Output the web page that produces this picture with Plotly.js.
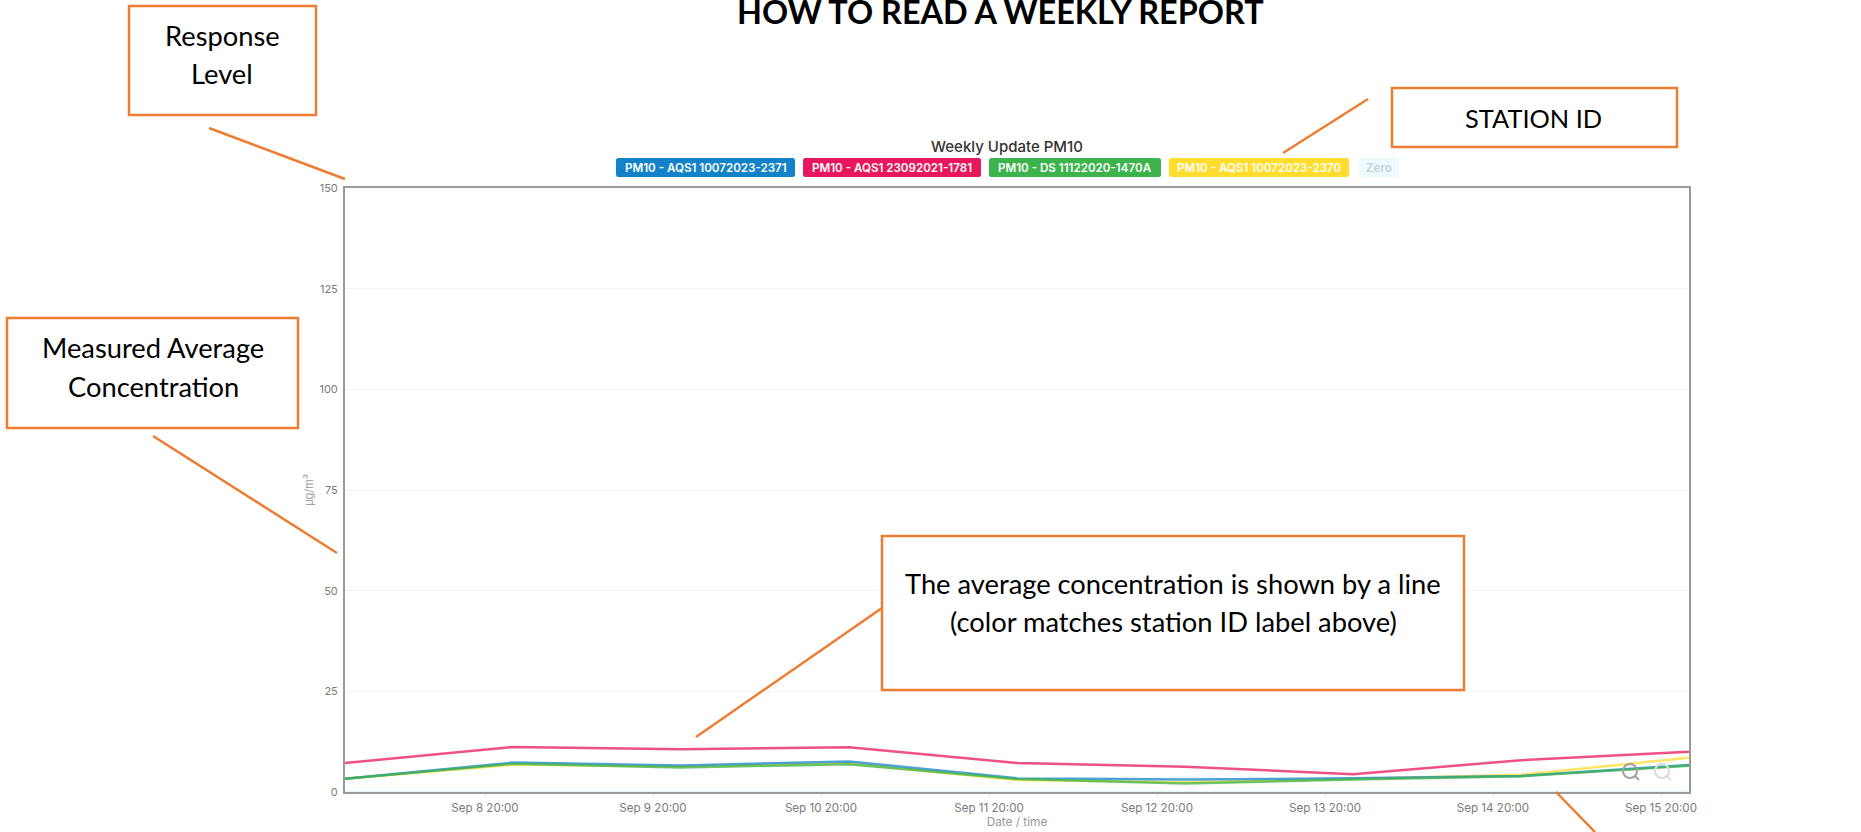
<!DOCTYPE html>
<html>
<head>
<meta charset="utf-8">
<script src="https://cdn.plot.ly/plotly-3.0.1.min.js"></script>
<style>html,body{margin:0;padding:0;background:#fff;overflow:hidden}#c{width:1861px;height:832px}</style>
</head>
<body>
<div id="c"></div>
<script>
const dates = ['2023-09-08 00:00','2023-09-09 00:00','2023-09-10 00:00','2023-09-11 00:00','2023-09-12 00:00','2023-09-13 00:00','2023-09-14 00:00','2023-09-15 00:00','2023-09-16 00:00'];
const zero    = [0,0,0,0,0,0,0,0,0];
const yellow  = [3.3,6.8,6.3,7.1,3.0,2.4,3.2,4.3,8.5];
const red     = [7.2,11.2,10.6,11.1,7.2,6.3,4.4,7.9,10.0];
const blue    = [3.3,7.3,6.6,7.6,3.4,3.1,3.4,4.0,6.7];
const green   = [3.3,7.0,6.1,6.9,3.2,2.1,3.1,3.9,6.5];

const chipNames  = ['PM10 - AQS1 10072023-2371','PM10 - AQS1 23092021-1781','PM10 - DS 11122020-1470A','PM10 - AQS1 10072023-2370','Zero'];
const chipColors = ['#1283c9','#e8175d','#3cb44b','#ffdd2e','#eefbfd'];
const chipText   = ['#ffffff','#ffffff','#ffffff','#ffffff','#c4d2d6'];
const chipLeft   = [616,803,989,1169,1358];
const chipRight  = [795,981,1161,1349,1399];

const W = 1861, H = 832, L = 345, R = 1689, T = 188, B = 792;
const px = x => (x - L) / (R - L);
const py = y => (B - y) / (B - T);
const ORANGE = '#ed7d31';

const boxes = [[129,6,316,115],[7,318,298,428],[1392,88,1677,147],[882,536,1464,690]];
const leaders = [[209,128,345,179],[153,436,337,553],[1368,99,1283,153],[882,608,696,737],[1556,792,1595,832]];
const boxLines = [
  ['Response',222,35,27.3],['Level',222,73,27.3],
  ['Measured Average',153,347,27.3],['Concentration',153,386,27.3],
  ['STATION ID',1533,118,25.4],
  ['The average concentration is shown by a line',1173,583,27.3],['(color matches station ID label above)',1173,621,27.3]
];

function line(name, y, color){
  return {type:'scatter',mode:'lines',name,x:dates,y,line:{color,width:2.5,shape:'linear'},opacity:0.75,hoverinfo:'skip',showlegend:false};
}
const traces = [
  line('Zero',zero,'#d9f3f7'),
  line(chipNames[3],yellow,'#ffdd2e'),
  line(chipNames[1],red,'#e8175d'),
  line(chipNames[0],blue,'#1283c9'),
  line(chipNames[2],green,'#3cb44b')
];

function roundedChip(x0,x1,y0,y1,r){
  const X = v => px(v), Y = v => py(v);
  return `M${X(x0+r)},${Y(y0)} L${X(x1-r)},${Y(y0)} Q${X(x1)},${Y(y0)} ${X(x1)},${Y(y0+r)} L${X(x1)},${Y(y1-r)} Q${X(x1)},${Y(y1)} ${X(x1-r)},${Y(y1)} L${X(x0+r)},${Y(y1)} Q${X(x0)},${Y(y1)} ${X(x0)},${Y(y1-r)} L${X(x0)},${Y(y0+r)} Q${X(x0)},${Y(y0)} ${X(x0+r)},${Y(y0)} Z`;
}
const shapes = [];
chipNames.forEach((n,i)=>shapes.push({type:'path',xref:'paper',yref:'paper',path:roundedChip(chipLeft[i],chipRight[i],158,177,2.5),fillcolor:chipColors[i],line:{width:0},layer:'above'}));
boxes.forEach(b=>shapes.push({type:'rect',xref:'paper',yref:'paper',x0:px(b[0]),x1:px(b[2]),y0:py(b[3]),y1:py(b[1]),fillcolor:'#ffffff',line:{color:ORANGE,width:2.5},layer:'above'}));
leaders.forEach(l=>shapes.push({type:'line',xref:'paper',yref:'paper',x0:px(l[0]),y0:py(l[1]),x1:px(l[2]),y1:py(l[3]),line:{color:ORANGE,width:2.5},layer:'above'}));
// zoom icons of the original chart
[[1630,771,'#a0a0a0'],[1662,771,'#dcdcdc']].forEach(c=>{
  shapes.push({type:'circle',xref:'paper',yref:'paper',x0:px(c[0]-7),x1:px(c[0]+7),y0:py(c[1]+7),y1:py(c[1]-7),line:{color:c[2],width:2},fillcolor:'rgba(0,0,0,0)',layer:'above'});
  shapes.push({type:'line',xref:'paper',yref:'paper',x0:px(c[0]+5),y0:py(c[1]+5),x1:px(c[0]+9),y1:py(c[1]+9),line:{color:c[2],width:2},layer:'above'});
});

const annotations = [];
function note(text,x,y,font,extra){
  annotations.push(Object.assign({text,xref:'paper',yref:'paper',x:px(x),y:py(y),xanchor:'center',yanchor:'middle',showarrow:false,font},extra||{}));
}
note('HOW TO READ A WEEKLY REPORT',1000.5,11.5,{family:'Lato',size:32.4,color:'#000',weight:700});
note('Weekly Update PM10',1007,146,{family:'Inter',size:15,color:'#333',weight:500});
chipNames.forEach((n,i)=>note(n,(chipLeft[i]+chipRight[i])/2,167.5,{family:'Inter',size:11.6,color:chipText[i],weight:600}));
boxLines.forEach(l=>note(l[0],l[1],l[2],{family:'Lato',size:l[3],color:'#000'}));

const layout = {
  width:W,height:H,paper_bgcolor:'#fff',plot_bgcolor:'#fff',showlegend:false,hovermode:false,
  margin:{l:L,r:W-R,t:T,b:H-B,pad:0},
  font:{family:'Inter',color:'#7a7a7a',size:11.6},
  xaxis:{type:'date',range:[dates[0],dates[8]],tick0:'2023-09-08 20:00',dtick:86400000,tickformat:'%b %-d %H:%M',
    showgrid:false,zeroline:false,showline:true,mirror:true,linecolor:'#9a9a9a',linewidth:2,ticks:'outside',ticklen:4,tickcolor:'#e6e6e6',tickwidth:1,
    tickfont:{family:'Inter',size:11.6,color:'#7a7a7a'},
    title:{text:'Date / time',font:{family:'Inter',size:11.8,color:'#999'},standoff:3}},
  yaxis:{range:[0,150],tick0:0,dtick:25,showgrid:true,gridcolor:'#f3f3f3',gridwidth:1,zeroline:false,showline:true,mirror:true,linecolor:'#9a9a9a',linewidth:2,ticks:'outside',ticklen:3,tickcolor:'rgba(0,0,0,0)',
    tickfont:{family:'Inter',size:11,color:'#7a7a7a'},
    title:{text:'µg/m³',font:{family:'Inter',size:11,color:'#a0a0a0'},standoff:4}},
  shapes,annotations
};
Plotly.newPlot('c',traces,layout,{displayModeBar:false,staticPlot:true});
</script>
</body>
</html>
